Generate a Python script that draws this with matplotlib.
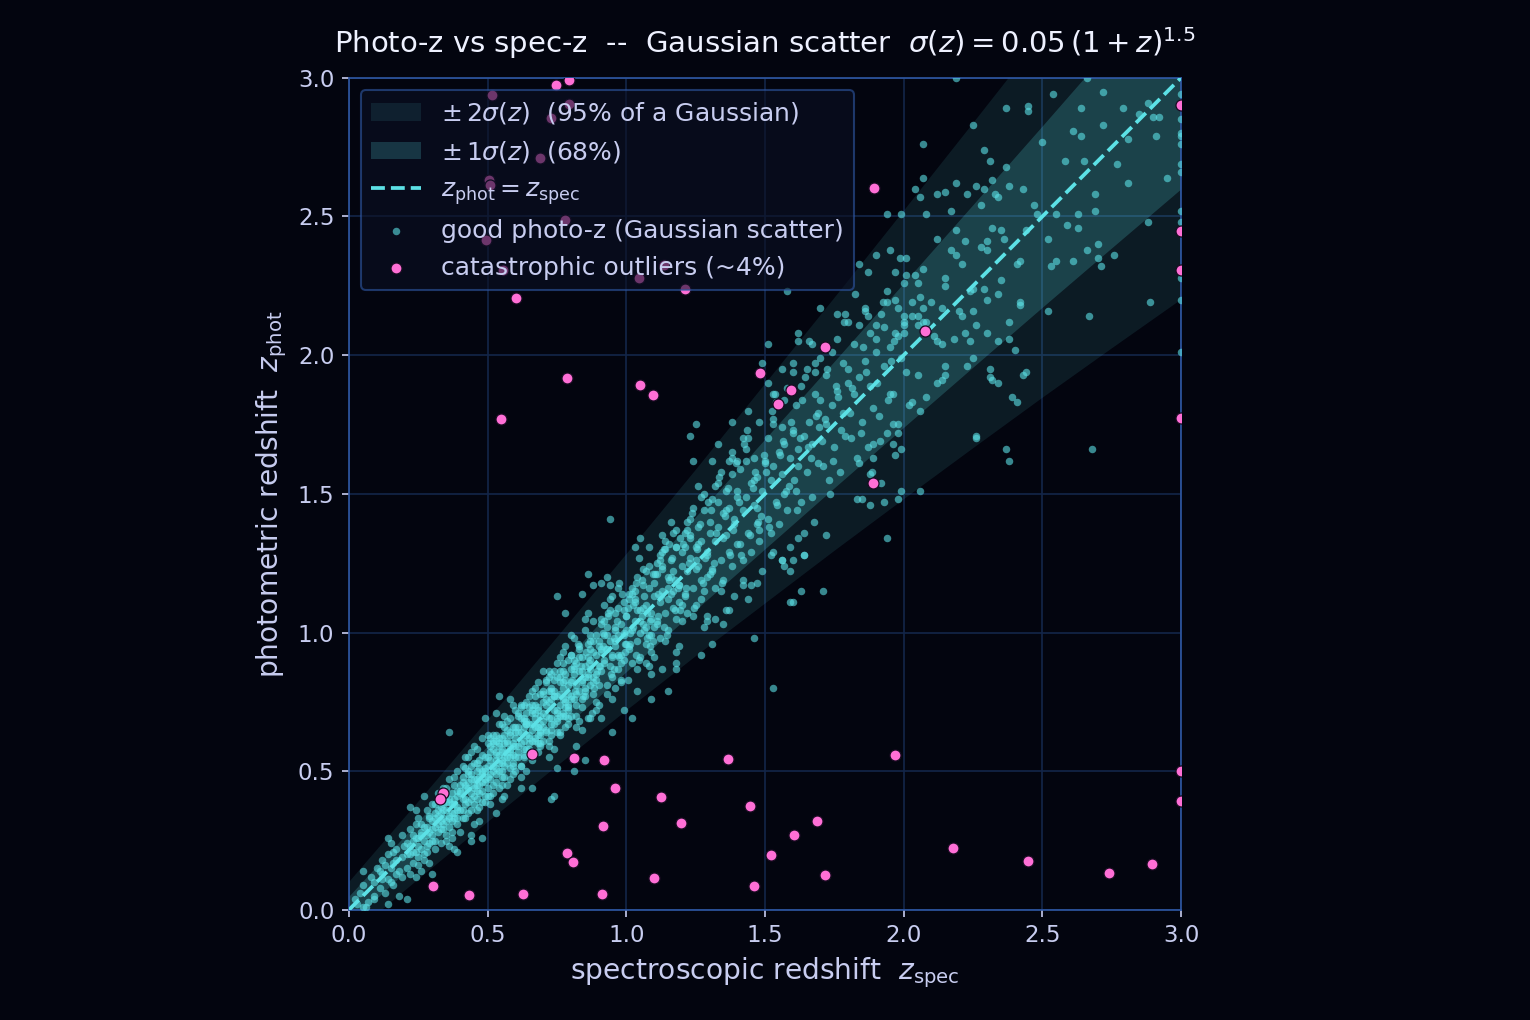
import numpy as np
import matplotlib.pyplot as plt

# sigma(z) = 0.05 (1+z)^1.5 read at the band grid
band_z = [0.0, 0.25, 0.5, 0.75, 1.0, 1.25, 1.5, 1.75, 2.0, 2.25, 2.5, 2.75, 3.0]
band_sigma = [0.050, 0.070, 0.092, 0.116, 0.141, 0.168, 0.198, 0.228, 0.260, 0.293, 0.327, 0.363, 0.400]

# good photo-z, dense core, by zspec slice
spec_00 = [0.03, 0.05, 0.06, 0.08, 0.09, 0.04, 0.07, 0.10, 0.02, 0.09]
phot_00 = [0.02, 0.09, 0.01, 0.12, 0.05, 0.06, 0.03, 0.15, 0.04, 0.10]

spec_01 = [0.11, 0.12, 0.12, 0.13, 0.14, 0.14, 0.15, 0.15, 0.16, 0.16, 0.17, 0.17, 0.18, 0.18, 0.19, 0.19,
           0.11, 0.13, 0.15, 0.17, 0.19, 0.20, 0.12, 0.14, 0.16]
phot_01 = [0.08, 0.18, 0.13, 0.06, 0.20, 0.11, 0.15, 0.24, 0.09, 0.17, 0.22, 0.13, 0.14, 0.05, 0.27, 0.19,
           0.14, 0.16, 0.10, 0.18, 0.12, 0.23, 0.11, 0.02, 0.21]

spec_02 = [0.21, 0.21, 0.22, 0.22, 0.23, 0.23, 0.24, 0.24, 0.24, 0.25, 0.25, 0.25, 0.26, 0.26, 0.26, 0.27,
           0.27, 0.27, 0.28, 0.28, 0.28, 0.29, 0.29, 0.29, 0.30, 0.30, 0.21, 0.22, 0.23, 0.24, 0.25, 0.26,
           0.27, 0.28, 0.29, 0.30, 0.22, 0.24, 0.26, 0.28, 0.30, 0.23, 0.25, 0.27, 0.29]
phot_02 = [0.24, 0.15, 0.20, 0.29, 0.17, 0.25, 0.31, 0.21, 0.12, 0.26, 0.19, 0.33, 0.22, 0.28, 0.14, 0.30,
           0.25, 0.18, 0.27, 0.36, 0.21, 0.33, 0.24, 0.17, 0.29, 0.38, 0.20, 0.23, 0.27, 0.26, 0.23, 0.31,
           0.20, 0.30, 0.28, 0.25, 0.13, 0.36, 0.27, 0.23, 0.32, 0.21, 0.16, 0.41, 0.34]

spec_03 = [0.30, 0.31, 0.31, 0.31, 0.32, 0.32, 0.32, 0.33, 0.33, 0.33, 0.34, 0.34, 0.34, 0.35, 0.35, 0.35,
           0.36, 0.36, 0.36, 0.37, 0.37, 0.37, 0.38, 0.38, 0.38, 0.39, 0.39, 0.39, 0.40, 0.40,
           0.31, 0.32, 0.33, 0.34, 0.35, 0.36, 0.37, 0.38, 0.39, 0.40, 0.31, 0.33, 0.35, 0.37, 0.39,
           0.32, 0.34, 0.36, 0.38, 0.40, 0.33, 0.35, 0.37, 0.39, 0.34, 0.36, 0.38, 0.31, 0.35, 0.39]
phot_03 = [0.27, 0.33, 0.38, 0.25, 0.31, 0.42, 0.28, 0.35, 0.24, 0.39, 0.33, 0.44, 0.29, 0.36, 0.27, 0.41,
           0.34, 0.47, 0.30, 0.38, 0.32, 0.26, 0.40, 0.35, 0.45, 0.37, 0.31, 0.50, 0.42, 0.36,
           0.30, 0.36, 0.29, 0.38, 0.32, 0.40, 0.35, 0.33, 0.43, 0.28, 0.22, 0.37, 0.44, 0.42, 0.36,
           0.34, 0.31, 0.39, 0.48, 0.45, 0.32, 0.39, 0.28, 0.41, 0.36, 0.33, 0.38, 0.35, 0.25, 0.33]

spec_04 = [0.40, 0.41, 0.41, 0.41, 0.42, 0.42, 0.42, 0.43, 0.43, 0.43, 0.44, 0.44, 0.44, 0.45, 0.45, 0.45,
           0.46, 0.46, 0.46, 0.47, 0.47, 0.47, 0.48, 0.48, 0.48, 0.49, 0.49, 0.49, 0.50, 0.50,
           0.41, 0.42, 0.43, 0.44, 0.45, 0.46, 0.47, 0.48, 0.49, 0.50, 0.41, 0.43, 0.45, 0.47, 0.49,
           0.42, 0.44, 0.46, 0.48, 0.50, 0.41, 0.43, 0.45, 0.47, 0.49, 0.42, 0.44, 0.46, 0.48, 0.50,
           0.43, 0.45, 0.47, 0.49, 0.44, 0.46, 0.48, 0.42, 0.46, 0.50]
phot_04 = [0.43, 0.36, 0.48, 0.40, 0.45, 0.33, 0.51, 0.39, 0.46, 0.55, 0.42, 0.36, 0.49, 0.44, 0.53, 0.38,
           0.47, 0.40, 0.58, 0.45, 0.51, 0.37, 0.49, 0.43, 0.56, 0.50, 0.41, 0.47, 0.52, 0.44,
           0.46, 0.40, 0.44, 0.52, 0.47, 0.43, 0.54, 0.46, 0.39, 0.60, 0.33, 0.50, 0.41, 0.48, 0.55,
           0.44, 0.57, 0.50, 0.39, 0.48, 0.52, 0.35, 0.59, 0.42, 0.46, 0.38, 0.47, 0.53, 0.62, 0.41,
           0.49, 0.45, 0.32, 0.51, 0.40, 0.45, 0.50, 0.55, 0.36, 0.63]

spec_05 = [0.50, 0.51, 0.51, 0.51, 0.52, 0.52, 0.52, 0.53, 0.53, 0.53, 0.54, 0.54, 0.54, 0.55, 0.55, 0.55,
           0.56, 0.56, 0.56, 0.57, 0.57, 0.57, 0.58, 0.58, 0.58, 0.59, 0.59, 0.59, 0.60, 0.60,
           0.51, 0.52, 0.53, 0.54, 0.55, 0.56, 0.57, 0.58, 0.59, 0.60, 0.51, 0.53, 0.55, 0.57, 0.59,
           0.52, 0.54, 0.56, 0.58, 0.60, 0.51, 0.53, 0.55, 0.57, 0.59, 0.52, 0.54, 0.56, 0.58, 0.60,
           0.53, 0.55, 0.57, 0.59, 0.52, 0.54, 0.56, 0.58, 0.51, 0.55, 0.59, 0.53, 0.57, 0.60, 0.54, 0.58,
           0.56, 0.52, 0.58, 0.55]
phot_05 = [0.55, 0.47, 0.59, 0.41, 0.52, 0.63, 0.45, 0.56, 0.49, 0.61, 0.53, 0.44, 0.67, 0.58, 0.50, 0.62,
           0.55, 0.48, 0.70, 0.60, 0.53, 0.45, 0.64, 0.57, 0.51, 0.59, 0.66, 0.49, 0.62, 0.55,
           0.54, 0.58, 0.51, 0.60, 0.54, 0.63, 0.57, 0.69, 0.53, 0.59, 0.62, 0.46, 0.57, 0.65, 0.60,
           0.50, 0.56, 0.60, 0.47, 0.72, 0.49, 0.63, 0.45, 0.55, 0.56, 0.61, 0.50, 0.66, 0.58, 0.64,
           0.57, 0.67, 0.61, 0.52, 0.42, 0.59, 0.52, 0.63, 0.57, 0.48, 0.74, 0.54, 0.68, 0.50, 0.62, 0.55,
           0.41, 0.60, 0.76, 0.53]

spec_06 = [0.60, 0.61, 0.61, 0.61, 0.62, 0.62, 0.62, 0.63, 0.63, 0.63, 0.64, 0.64, 0.64, 0.65, 0.65, 0.65,
           0.66, 0.66, 0.66, 0.67, 0.67, 0.67, 0.68, 0.68, 0.68, 0.69, 0.69, 0.69, 0.70, 0.70,
           0.61, 0.62, 0.63, 0.64, 0.65, 0.66, 0.67, 0.68, 0.69, 0.70,
           0.61, 0.63, 0.65, 0.67, 0.69, 0.62, 0.64, 0.66, 0.68, 0.70,
           0.61, 0.63, 0.65, 0.67, 0.69, 0.62, 0.64, 0.66, 0.68, 0.70,
           0.61, 0.63, 0.65, 0.67, 0.69, 0.62, 0.64, 0.66, 0.68, 0.70,
           0.63, 0.65, 0.67, 0.69, 0.64, 0.66, 0.68, 0.62, 0.66, 0.70]
phot_06 = [0.66, 0.55, 0.70, 0.59, 0.64, 0.52, 0.74, 0.61, 0.68, 0.56, 0.71, 0.63, 0.50, 0.67, 0.77, 0.58,
           0.65, 0.72, 0.54, 0.69, 0.62, 0.80, 0.66, 0.57, 0.73, 0.64, 0.70, 0.59, 0.75, 0.66,
           0.64, 0.69, 0.58, 0.75, 0.62, 0.71, 0.66, 0.60, 0.78, 0.68,
           0.71, 0.55, 0.73, 0.61, 0.67, 0.60, 0.67, 0.79, 0.63, 0.71,
           0.57, 0.66, 0.60, 0.74, 0.65, 0.73, 0.58, 0.67, 0.82, 0.61,
           0.66, 0.74, 0.56, 0.71, 0.63, 0.52, 0.68, 0.61, 0.72, 0.86,
           0.69, 0.63, 0.77, 0.60, 0.67, 0.74, 0.66, 0.48, 0.55, 0.79]

spec_07 = [0.70, 0.71, 0.71, 0.71, 0.72, 0.72, 0.72, 0.73, 0.73, 0.73, 0.74, 0.74, 0.74, 0.75, 0.75, 0.75,
           0.76, 0.76, 0.76, 0.77, 0.77, 0.77, 0.78, 0.78, 0.78, 0.79, 0.79, 0.79, 0.80, 0.80,
           0.71, 0.72, 0.73, 0.74, 0.75, 0.76, 0.77, 0.78, 0.79, 0.80,
           0.71, 0.73, 0.75, 0.77, 0.79, 0.72, 0.74, 0.76, 0.78, 0.80,
           0.71, 0.73, 0.75, 0.77, 0.79, 0.72, 0.74, 0.76, 0.78, 0.80,
           0.71, 0.73, 0.75, 0.77, 0.79, 0.72, 0.74, 0.76, 0.78, 0.80,
           0.73, 0.75, 0.77, 0.79, 0.74, 0.76, 0.78, 0.72, 0.76, 0.80]
phot_07 = [0.78, 0.64, 0.82, 0.70, 0.75, 0.61, 0.86, 0.69, 0.79, 0.65, 0.83, 0.72, 0.58, 0.77, 0.89, 0.68,
           0.74, 0.84, 0.63, 0.80, 0.71, 0.93, 0.76, 0.66, 0.85, 0.73, 0.81, 0.67, 0.87, 0.76,
           0.74, 0.79, 0.67, 0.86, 0.71, 0.82, 0.76, 0.70, 0.90, 0.77,
           0.83, 0.63, 0.84, 0.70, 0.78, 0.69, 0.77, 0.91, 0.73, 0.82,
           0.65, 0.76, 0.69, 0.86, 0.74, 0.84, 0.67, 0.78, 0.95, 0.70,
           0.76, 0.85, 0.64, 0.82, 0.72, 0.59, 0.79, 0.70, 0.83, 0.99,
           0.80, 0.72, 0.89, 0.69, 0.77, 0.86, 0.75, 0.55, 0.64, 0.92]

spec_08 = [0.80, 0.81, 0.81, 0.81, 0.82, 0.82, 0.82, 0.83, 0.83, 0.83, 0.84, 0.84, 0.84, 0.85, 0.85, 0.85,
           0.86, 0.86, 0.86, 0.87, 0.87, 0.87, 0.88, 0.88, 0.88, 0.89, 0.89, 0.89, 0.90, 0.90,
           0.81, 0.82, 0.83, 0.84, 0.85, 0.86, 0.87, 0.88, 0.89, 0.90,
           0.815, 0.835, 0.855, 0.875, 0.895, 0.805, 0.825, 0.845, 0.865, 0.885,
           0.81, 0.83, 0.85, 0.87, 0.89, 0.82, 0.84, 0.86, 0.88, 0.90,
           0.83, 0.85, 0.87, 0.82, 0.86, 0.88, 0.84, 0.81, 0.89, 0.85]
phot_08 = [0.92, 0.76, 0.85, 0.98, 0.81, 0.70, 0.89, 0.95, 0.79, 0.86, 0.73, 0.91, 0.83, 1.01, 0.88, 0.77,
           0.84, 0.96, 0.69, 0.90, 0.81, 0.87, 1.04, 0.78, 0.93, 0.85, 0.72, 0.99, 0.88, 0.81,
           0.87, 0.74, 0.94, 0.82, 0.79, 0.91, 0.97, 0.84, 0.75, 0.95,
           0.79, 0.88, 0.93, 0.71, 0.86, 0.83, 0.96, 0.77, 0.89, 0.80,
           0.90, 0.68, 0.84, 0.99, 0.92, 0.78, 0.86, 1.07, 0.82, 0.74,
           0.91, 0.80, 0.94, 0.66, 0.85, 0.97, 0.76, 0.88, 0.83, 1.05]

spec_09 = [0.90, 0.91, 0.91, 0.91, 0.92, 0.92, 0.92, 0.93, 0.93, 0.93, 0.94, 0.94, 0.94, 0.95, 0.95, 0.95,
           0.96, 0.96, 0.96, 0.97, 0.97, 0.97, 0.98, 0.98, 0.98, 0.99, 0.99, 0.99, 1.00, 1.00,
           0.905, 0.915, 0.925, 0.935, 0.945, 0.955, 0.965, 0.975, 0.985, 0.995,
           0.91, 0.93, 0.95, 0.97, 0.99, 0.92, 0.94, 0.96, 0.98, 1.00,
           0.915, 0.935, 0.955, 0.975, 0.995, 0.93, 0.96, 0.99, 0.92, 0.97,
           0.94, 0.98, 0.91, 0.95, 0.96]
phot_09 = [0.97, 1.05, 0.86, 0.93, 1.10, 0.89, 0.99, 0.81, 1.02, 0.94, 1.08, 0.88, 0.97, 1.13, 0.91, 0.84,
           1.01, 0.95, 1.07, 0.87, 0.99, 1.16, 0.92, 1.03, 0.83, 1.00, 1.11, 0.90, 0.96, 1.06,
           0.88, 1.00, 0.94, 1.07, 0.85, 0.98, 1.04, 0.91, 1.14, 0.96,
           1.03, 0.78, 0.92, 1.09, 0.99, 0.90, 1.12, 0.97, 0.82, 1.01,
           0.95, 1.06, 0.87, 1.18, 0.93, 0.99, 0.80, 1.08, 1.04, 0.92,
           1.17, 0.89, 0.94, 0.76, 1.02]

spec_10 = [1.00, 1.01, 1.01, 1.02, 1.02, 1.03, 1.03, 1.04, 1.04, 1.05, 1.05, 1.06, 1.06, 1.07, 1.07, 1.08,
           1.08, 1.09, 1.09, 1.10,
           1.005, 1.015, 1.025, 1.035, 1.045, 1.055, 1.065, 1.075, 1.085, 1.095,
           1.01, 1.03, 1.05, 1.07, 1.09, 1.02, 1.04, 1.06, 1.08, 1.10,
           1.015, 1.035, 1.055, 1.075, 1.095, 1.005, 1.025, 1.045, 1.065, 1.085,
           1.02, 1.05, 1.08, 1.03, 1.06, 1.09, 1.04, 1.07, 1.01, 1.10]
phot_10 = [1.06, 0.94, 1.12, 1.01, 0.89, 1.15, 1.04, 0.97, 1.20, 1.08, 0.91, 1.03, 1.17, 0.96, 1.10, 1.24,
           0.99, 1.07, 0.93, 1.13,
           1.09, 0.96, 1.02, 1.18, 0.90, 1.06, 1.13, 0.98, 1.04, 1.21,
           0.95, 1.11, 1.00, 1.22, 1.05, 1.14, 0.87, 1.09, 1.16, 1.02,
           1.00, 0.92, 1.19, 1.07, 0.97, 0.83, 1.10, 1.27, 1.01, 0.95,
           1.16, 1.04, 0.88, 1.12, 1.23, 0.99, 1.08, 1.02, 1.14, 0.91]

spec_11 = [1.10, 1.11, 1.11, 1.12, 1.12, 1.13, 1.13, 1.14, 1.14, 1.15, 1.15, 1.16, 1.16, 1.17, 1.17, 1.18,
           1.18, 1.19, 1.19, 1.20,
           1.105, 1.115, 1.125, 1.135, 1.145, 1.155, 1.165, 1.175, 1.185, 1.195,
           1.11, 1.13, 1.15, 1.17, 1.19, 1.12, 1.14, 1.16, 1.18, 1.20,
           1.115, 1.135, 1.155, 1.175, 1.195,
           1.12, 1.15, 1.18, 1.13, 1.16, 1.19, 1.11, 1.17, 1.14, 1.20]
phot_11 = [1.18, 1.03, 1.25, 1.11, 0.98, 1.29, 1.15, 1.07, 1.33, 1.20, 1.01, 1.14, 1.26, 1.09, 1.22, 1.37,
           1.05, 1.17, 0.95, 1.24,
           1.21, 1.06, 1.13, 1.30, 0.99, 1.19, 1.27, 1.08, 1.16, 1.34,
           1.04, 1.23, 1.12, 1.36, 1.17, 1.28, 0.97, 1.20, 1.31, 1.10,
           1.14, 1.02, 1.32, 1.19, 1.08,
           1.26, 1.16, 0.93, 1.24, 1.40, 1.11, 1.21, 1.15, 1.30, 1.04]

spec_12 = [1.20, 1.21, 1.21, 1.22, 1.22, 1.23, 1.23, 1.24, 1.24, 1.25, 1.25, 1.26, 1.26, 1.27, 1.27, 1.28,
           1.28, 1.29, 1.29, 1.30,
           1.205, 1.215, 1.225, 1.235, 1.245, 1.255, 1.265, 1.275, 1.285, 1.295,
           1.21, 1.23, 1.25, 1.27, 1.29, 1.22, 1.24, 1.26, 1.28, 1.30,
           1.22, 1.25, 1.28, 1.23, 1.26, 1.29, 1.21, 1.27]
phot_12 = [1.29, 1.13, 1.36, 1.22, 1.07, 1.41, 1.27, 1.16, 1.45, 1.31, 1.10, 1.24, 1.38, 1.19, 1.33, 1.50,
           1.15, 1.28, 1.04, 1.36,
           1.32, 1.16, 1.25, 1.43, 1.09, 1.30, 1.39, 1.18, 1.27, 1.47,
           1.14, 1.35, 1.23, 1.49, 1.29, 1.40, 1.06, 1.32, 1.44, 1.21,
           1.37, 1.26, 1.02, 1.34, 1.53, 1.20, 1.31, 1.12]

spec_13 = [1.30, 1.31, 1.31, 1.32, 1.32, 1.33, 1.33, 1.34, 1.34, 1.35, 1.35, 1.36, 1.36, 1.37, 1.37, 1.38,
           1.38, 1.39, 1.39, 1.40,
           1.305, 1.315, 1.325, 1.335, 1.345, 1.355, 1.365, 1.375, 1.385, 1.395,
           1.31, 1.33, 1.35, 1.37, 1.39, 1.32, 1.34, 1.36, 1.38, 1.40, 1.33, 1.37]
phot_13 = [1.40, 1.22, 1.48, 1.33, 1.16, 1.54, 1.38, 1.26, 1.58, 1.43, 1.19, 1.35, 1.51, 1.29, 1.45, 1.63,
           1.24, 1.39, 1.13, 1.49,
           1.44, 1.25, 1.36, 1.56, 1.18, 1.42, 1.52, 1.28, 1.37, 1.61,
           1.23, 1.47, 1.34, 1.62, 1.41, 1.53, 1.15, 1.44, 1.57, 1.32, 1.68, 1.08]

spec_14 = [1.40, 1.41, 1.41, 1.42, 1.42, 1.43, 1.43, 1.44, 1.44, 1.45, 1.45, 1.46, 1.46, 1.47, 1.47, 1.48,
           1.48, 1.49, 1.49, 1.50,
           1.405, 1.425, 1.445, 1.465, 1.485, 1.415, 1.435, 1.455, 1.475, 1.495, 1.42, 1.46, 1.44, 1.48,
           1.43, 1.47]
phot_14 = [1.51, 1.32, 1.59, 1.44, 1.26, 1.66, 1.49, 1.36, 1.70, 1.54, 1.29, 1.46, 1.63, 1.39, 1.56, 1.76,
           1.33, 1.51, 1.22, 1.61,
           1.47, 1.68, 1.35, 1.58, 1.42, 1.28, 1.73, 1.52, 1.40, 1.64, 1.19, 1.55, 1.80, 1.37,
           1.62, 1.45]

spec_15 = [1.50, 1.51, 1.51, 1.52, 1.52, 1.53, 1.53, 1.54, 1.54, 1.55, 1.55, 1.56, 1.56, 1.57, 1.57, 1.58,
           1.58, 1.59, 1.59, 1.60,
           1.505, 1.525, 1.545, 1.565, 1.585, 1.515, 1.535, 1.555, 1.575, 1.595, 1.52, 1.56]
phot_15 = [1.62, 1.41, 1.70, 1.55, 1.36, 1.77, 1.60, 1.47, 1.83, 1.65, 1.39, 1.57, 1.74, 1.50, 1.68, 1.88,
           1.44, 1.63, 1.31, 1.72,
           1.58, 1.80, 1.46, 1.69, 1.53, 1.38, 1.86, 1.64, 1.51, 1.76, 1.28, 1.95]

spec_16 = [1.60, 1.61, 1.61, 1.62, 1.63, 1.63, 1.64, 1.65, 1.65, 1.66, 1.67, 1.67, 1.68, 1.69, 1.69, 1.70,
           1.605, 1.625, 1.645, 1.665, 1.685, 1.615, 1.635, 1.655, 1.675, 1.695, 1.62, 1.66]
phot_16 = [1.73, 1.51, 1.82, 1.66, 1.47, 1.89, 1.71, 1.58, 1.95, 1.76, 1.49, 1.68, 1.86, 1.61, 1.79, 1.99,
           1.55, 1.70, 1.92, 1.63, 1.78, 1.44, 1.84, 1.67, 1.40, 1.74, 1.60, 2.05]

spec_17 = [1.70, 1.71, 1.72, 1.72, 1.73, 1.74, 1.74, 1.75, 1.76, 1.76, 1.77, 1.78, 1.78, 1.79, 1.80,
           1.705, 1.725, 1.745, 1.765, 1.785, 1.715, 1.735, 1.755, 1.775]
phot_17 = [1.84, 1.60, 1.93, 1.75, 1.55, 2.01, 1.82, 1.67, 2.06, 1.87, 1.58, 1.79, 1.97, 1.71, 1.90,
           1.69, 1.95, 1.62, 1.85, 2.12, 1.77, 1.50, 1.89, 1.73]

spec_18 = [1.80, 1.81, 1.82, 1.82, 1.83, 1.84, 1.84, 1.85, 1.86, 1.86, 1.87, 1.88, 1.88, 1.89, 1.90,
           1.805, 1.825, 1.845, 1.865, 1.885, 1.815, 1.855]
phot_18 = [1.95, 1.70, 2.04, 1.86, 1.63, 2.11, 1.92, 1.76, 2.17, 1.98, 1.67, 1.89, 2.08, 1.81, 2.01,
           1.79, 2.22, 1.72, 1.94, 1.58, 1.88, 2.03]

spec_19 = [1.90, 1.91, 1.92, 1.93, 1.94, 1.94, 1.95, 1.96, 1.97, 1.97, 1.98, 1.99, 2.00,
           1.905, 1.925, 1.945, 1.965, 1.985, 1.915, 1.955]
phot_19 = [2.06, 1.78, 2.15, 1.96, 1.72, 2.23, 2.03, 1.86, 2.30, 2.08, 1.75, 1.99, 2.12,
           1.90, 2.19, 1.84, 2.05, 2.35, 1.69, 1.98]

# good photo-z read one by one (sparse parts and the high-z end), (zspec, zphot)
good_read = [
    (2.54, 2.94), (2.72, 2.95), (2.66, 3.00), (2.45, 2.90), (2.45, 2.88), (2.37, 2.89), (2.64, 2.89),
    (2.79, 2.89), (2.88, 2.91), (2.85, 2.87), (2.90, 2.86), (2.92, 2.86), (2.25, 2.83), (2.50, 2.77),
    (2.61, 2.81), (2.64, 2.79), (2.72, 2.83), (2.81, 2.78), (2.91, 2.79), (2.07, 2.76), (2.29, 2.74),
    (2.31, 2.70), (2.37, 2.68), (2.58, 2.70), (2.65, 2.70), (2.77, 2.69), (2.95, 2.64), (2.81, 2.62),
    (2.07, 2.64), (2.19, 2.62), (2.26, 2.61), (2.32, 2.63), (2.38, 2.61), (2.43, 2.60), (2.04, 2.60),
    (2.06, 2.57), (2.12, 2.58), (2.15, 2.59), (2.23, 2.58), (2.29, 2.60), (2.33, 2.58), (2.34, 2.57),
    (2.28, 2.54), (1.94, 2.51), (1.99, 2.51), (2.08, 2.51), (2.17, 2.52), (2.47, 2.54), (2.48, 2.51),
    (2.55, 2.51), (2.63, 2.51), (2.69, 2.52), (2.69, 2.58), (2.88, 2.48), (2.32, 2.46), (2.35, 2.45),
    (2.36, 2.42), (2.19, 2.45), (2.12, 2.42), (2.22, 2.41), (2.28, 2.39), (2.30, 2.41), (2.30, 2.38),
    (2.17, 2.38), (2.19, 2.36), (2.21, 2.33), (2.44, 2.45), (2.52, 2.42), (2.59, 2.47), (2.63, 2.46),
    (2.66, 2.38), (2.70, 2.40), (2.70, 2.35), (2.71, 2.32), (2.76, 2.36), (2.55, 2.34), (2.53, 2.32),
    (2.61, 2.34), (2.42, 2.34), (2.41, 2.33), (2.35, 2.27), (2.34, 2.22), (2.29, 2.24), (2.25, 2.24),
    (2.24, 2.23), (2.15, 2.28), (2.15, 2.25), (2.07, 2.31), (2.04, 2.29), (2.05, 2.26), (2.00, 2.26),
    (2.01, 2.29), (2.06, 2.21), (2.07, 2.17), (2.10, 2.19), (2.03, 2.19), (1.97, 2.20), (1.94, 2.19),
    (1.98, 2.17), (2.14, 2.17), (2.20, 2.16), (2.21, 2.14), (2.25, 2.16), (2.30, 2.20), (2.42, 2.19),
    (2.42, 2.18), (2.38, 2.12), (2.52, 2.16), (2.67, 2.14), (2.89, 2.19), (1.90, 2.11), (1.93, 2.10),
    (2.00, 2.14), (2.03, 2.14), (2.05, 2.14), (2.07, 2.12), (2.08, 2.12), (1.98, 2.07), (2.00, 2.08),
    (2.00, 2.11), (2.05, 2.11), (2.11, 2.07), (2.12, 2.05), (2.14, 2.04), (2.18, 2.06), (2.22, 2.08),
    (2.26, 2.11), (2.30, 2.08), (2.24, 2.05), (2.34, 2.05), (2.38, 2.06), (2.40, 2.02), (1.80, 2.12),
    (1.76, 2.15), (1.79, 2.15), (1.86, 2.16), (1.87, 2.14), (1.70, 2.17), (1.62, 2.08), (1.62, 2.05),
    (1.67, 2.04), (1.51, 2.04), (1.84, 2.33), (1.87, 2.30), (1.90, 2.36), (1.95, 2.38), (2.01, 2.35),
    (1.58, 2.23), (2.19, 3.00),
    (3.00, 2.94), (3.00, 2.85), (3.00, 2.80), (3.00, 2.79), (3.00, 2.76), (3.00, 2.69), (3.00, 2.66),
    (3.00, 2.52), (3.00, 2.48), (3.00, 2.45), (3.00, 2.31), (3.00, 2.28), (3.00, 2.20), (3.00, 2.01),
    (2.31, 1.95), (2.32, 1.91), (2.34, 1.90), (2.31, 1.92), (2.44, 1.94), (2.43, 1.93), (2.39, 1.85),
    (2.41, 1.83), (2.26, 1.71), (2.26, 1.70), (2.37, 1.66), (2.38, 1.62), (2.68, 1.66), (2.06, 1.51),
    (1.94, 1.34), (2.25, 1.99), (2.23, 1.96), (2.15, 1.96), (2.15, 1.93), (2.12, 1.90), (2.14, 1.91),
    (2.01, 1.94), (2.05, 1.93), (2.08, 1.85), (2.06, 1.80), (2.03, 1.83), (2.02, 1.82), (1.95, 1.86),
    (1.96, 1.75), (1.98, 1.72), (1.96, 1.68), (1.97, 1.64), (1.99, 1.66), (1.99, 1.51), (1.98, 1.48),
    (1.93, 1.47), (1.89, 1.68), (1.89, 1.63), (1.84, 1.61), (1.88, 1.57), (1.92, 1.54), (1.88, 1.46),
    (1.85, 1.48), (1.83, 1.48), (1.72, 1.35), (1.64, 1.36), (1.62, 1.34), (1.64, 1.28), (1.60, 1.26),
    (1.53, 1.29), (1.56, 1.26),
    (1.49, 1.97), (1.60, 1.97), (1.60, 1.94), (1.68, 1.97), (1.68, 1.94), (1.51, 1.90), (1.53, 1.86),
    (1.57, 1.84), (1.53, 1.75), (1.25, 1.75), (1.23, 1.71), (1.24, 1.62), (1.38, 1.76), (1.42, 1.70),
    (1.38, 1.65), (1.40, 1.62), (1.31, 1.62), (0.94, 1.41), (0.86, 1.21), (0.84, 1.14), (0.88, 1.17),
    (0.91, 1.18), (0.93, 1.20), (1.05, 1.34), (1.03, 1.31), (1.08, 1.31), (1.13, 1.35), (1.18, 1.31),
    (1.63, 1.15), (1.71, 1.15), (1.59, 1.22), (1.57, 1.24), (1.56, 1.26), (1.64, 1.28),
    (0.78, 1.07), (1.53, 0.80), (1.46, 0.98), (1.27, 0.92), (1.31, 0.96), (1.35, 1.03), (1.32, 1.05),
    (1.29, 1.06), (1.36, 1.08), (1.59, 1.11), (1.60, 1.11), (1.15, 0.79), (1.09, 0.76), (0.99, 0.72),
    (1.02, 0.69), (0.95, 0.64), (0.84, 0.65), (0.82, 0.59), (0.91, 0.69), (0.87, 0.69), (1.18, 0.89),
    (1.18, 0.87), (1.13, 0.87), (1.09, 0.85), (1.07, 0.89), (1.04, 0.79), (1.44, 1.12), (1.42, 1.17),
    (1.45, 1.17), (1.47, 1.18), (0.75, 1.13),
    (0.36, 0.64), (0.54, 0.77), (0.49, 0.69), (0.53, 0.71), (0.85, 0.54), (0.81, 0.50), (0.75, 0.51),
    (0.73, 0.40), (0.74, 0.41), (0.66, 0.44), (0.62, 0.44), (0.53, 0.35), (0.55, 0.40), (0.51, 0.38),
    (0.48, 0.26), (0.44, 0.25), (0.44, 0.27), (0.45, 0.31), (0.39, 0.21), (0.38, 0.22), (0.36, 0.23),
    (0.30, 0.13), (0.21, 0.04), (0.09, 0.04), (0.05, 0.01), (0.05, 0.14), (0.14, 0.26), (0.22, 0.37),
]

# catastrophic outliers
out_zspec = [0.746, 0.793, 0.516, 0.728, 0.793, 0.689, 0.505, 0.508, 0.494, 0.779, 0.555, 1.136, 1.046,
             1.212, 0.602, 1.893, 2.077, 1.716, 1.482, 0.786, 1.049, 1.096, 1.594, 1.547, 0.548, 1.889,
             0.660, 0.339, 0.328, 0.811, 0.920, 1.367, 1.969, 0.959, 1.125, 1.446, 0.916, 1.197, 1.688,
             1.605, 0.786, 0.808, 1.522, 2.178, 2.448, 2.896, 2.740, 1.716, 1.100, 0.303, 0.433, 0.627,
             0.912, 1.460, 3.0, 3.0, 3.0, 3.0, 3.0, 3.0]
out_zphot = [2.975, 2.993, 2.939, 2.856, 2.906, 2.712, 2.632, 2.614, 2.416, 2.488, 2.308, 2.326, 2.279,
             2.239, 2.207, 2.603, 2.088, 2.030, 1.936, 1.918, 1.893, 1.857, 1.875, 1.825, 1.770, 1.540,
             0.563, 0.422, 0.400, 0.548, 0.541, 0.545, 0.559, 0.440, 0.407, 0.375, 0.303, 0.314, 0.321,
             0.270, 0.206, 0.173, 0.198, 0.224, 0.177, 0.166, 0.133, 0.126, 0.115, 0.087, 0.054, 0.058,
             0.058, 0.087, 2.903, 2.448, 2.308, 1.774, 0.501, 0.393]

BG = '#03050f'
TXT = '#c8cdf0'
CYAN = '#5ce1e6'
PINK = '#ff6fd6'
EDGE = '#2f58a5'

slices = [(spec_00, phot_00), (spec_01, phot_01), (spec_02, phot_02), (spec_03, phot_03),
          (spec_04, phot_04), (spec_05, phot_05), (spec_06, phot_06), (spec_07, phot_07),
          (spec_08, phot_08), (spec_09, phot_09), (spec_10, phot_10), (spec_11, phot_11),
          (spec_12, phot_12), (spec_13, phot_13), (spec_14, phot_14), (spec_15, phot_15),
          (spec_16, phot_16), (spec_17, phot_17), (spec_18, phot_18), (spec_19, phot_19)]
pairs = [p for s, f in slices for p in zip(s, f)] + good_read
good = np.array(pairs)

bz = np.array(band_z)
bs = np.array(band_sigma)

fig = plt.figure(figsize=(10.2, 6.8), dpi=150, facecolor=BG)
ax = fig.add_axes([0.228, 0.108, 0.544, 0.8157], facecolor=BG)

h2 = ax.fill_between(bz, bz - 2 * bs, bz + 2 * bs, color=CYAN, alpha=0.1, lw=0,
                     label=r'$\pm\,2\sigma(z)$  (95% of a Gaussian)')
h1 = ax.fill_between(bz, bz - bs, bz + bs, color=CYAN, alpha=0.2, lw=0,
                     label=r'$\pm\,1\sigma(z)$  (68%)')
hl, = ax.plot([0, 3], [0, 3], ls='--', color=CYAN, lw=1.8, zorder=4,
              label=r'$z_{\rm phot} = z_{\rm spec}$')
hg = ax.scatter(good[:, 0], good[:, 1], s=13, color=CYAN, alpha=0.6, lw=0, zorder=3,
                label='good photo-z (Gaussian scatter)')
ho = ax.scatter(out_zspec, out_zphot, s=28, color=PINK, edgecolor='#1a0b22', lw=0.6, zorder=5,
                label='catastrophic outliers (~4%)')

ax.set_xlim(0, 3)
ax.set_ylim(0, 3)
ax.set_aspect('equal')
ax.set_axisbelow(True)
ax.grid(True, color='#132649', lw=0.8)
for sp in ax.spines.values():
    sp.set_color(EDGE)
ax.tick_params(colors=TXT, labelsize=11)

ax.set_xlabel(r'spectroscopic redshift  $z_{\rm spec}$', color=TXT, fontsize=13.5)
ax.set_ylabel(r'photometric redshift  $z_{\rm phot}$', color=TXT, fontsize=13.5)
ax.set_title(r'Photo-z vs spec-z  --  Gaussian scatter  $\sigma(z) = 0.05\,(1+z)^{1.5}$',
             color='#eef1ff', fontsize=14, pad=12)

leg = ax.legend(handles=[h2, h1, hl, hg, ho], loc='upper left', fontsize=12,
                facecolor='#0b1024', edgecolor=EDGE, framealpha=0.6, labelcolor=TXT)

fig.savefig('out.png', dpi=150, facecolor=BG)
